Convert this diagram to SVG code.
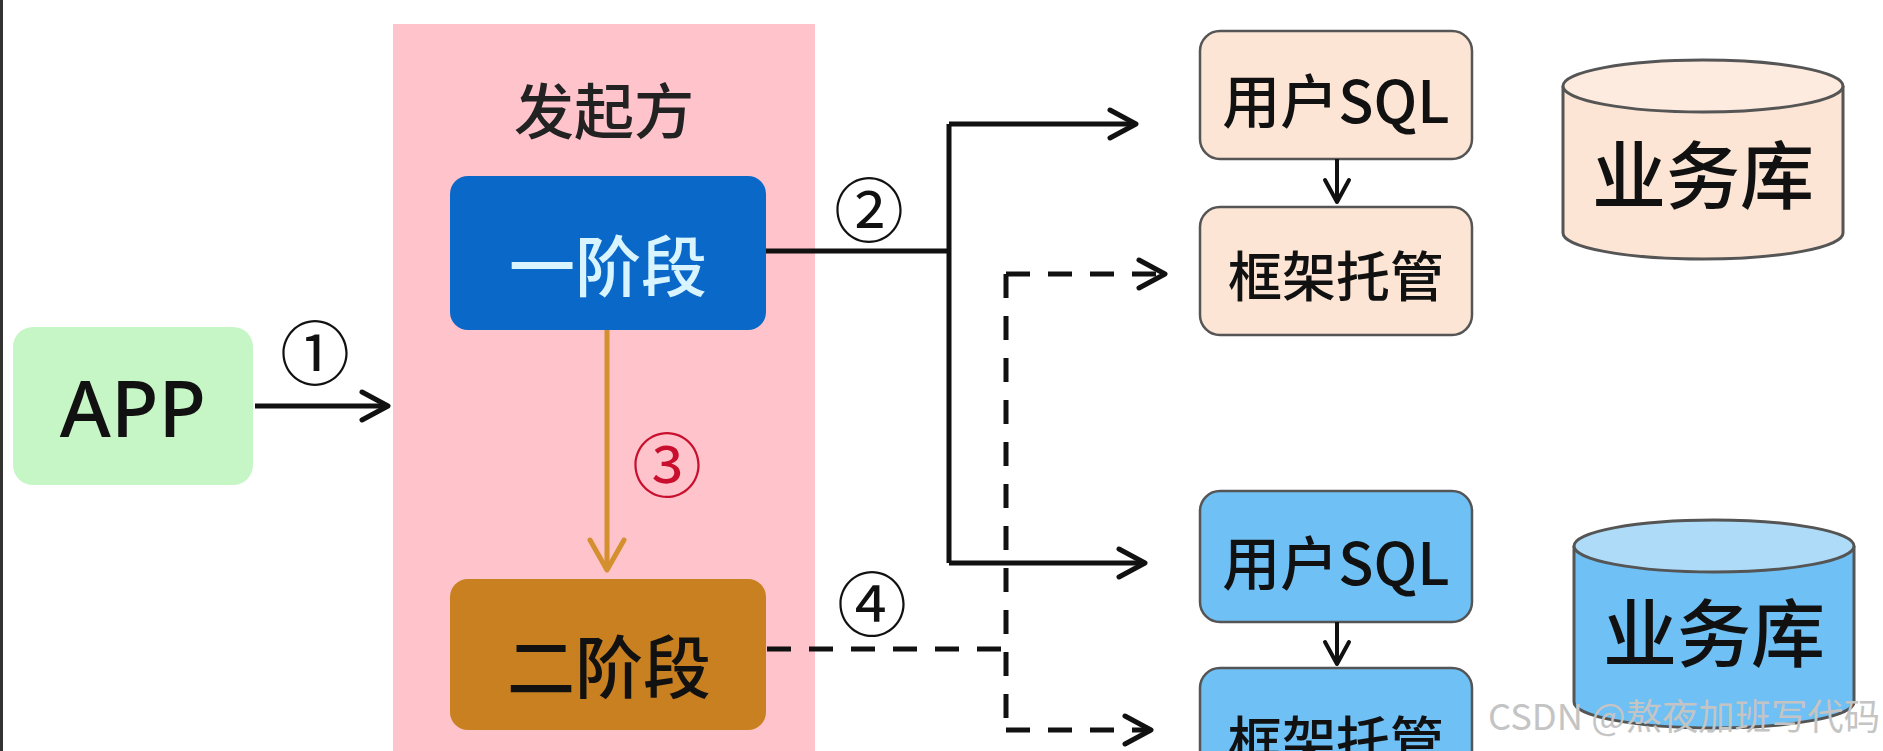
<svg xmlns="http://www.w3.org/2000/svg" width="1883" height="751" viewBox="0 0 1883 751">
<style>
.cjk{font-family:"Noto Sans CJK SC","Noto Sans",sans-serif;font-weight:500}
.lat{font-family:"Noto Sans","Noto Sans CJK SC",sans-serif;font-weight:500}
.c{text-anchor:middle;dominant-baseline:central}
.solid{fill:none;stroke:#111;stroke-width:5}
.dash{fill:none;stroke:#111;stroke-width:5;stroke-dasharray:24 18}
.rbox{stroke:#555;stroke-width:2.5}
.cyl{stroke:#555;stroke-width:3}
.num{font-size:70px;fill:#111;font-weight:400}
</style>
<defs>
<marker id="arr" markerUnits="userSpaceOnUse" viewBox="-32 -18 36 36" refX="0" refY="0" markerWidth="36" markerHeight="36" orient="auto" overflow="visible">
<path d="M-26,-14 L0,0 L-26,14" fill="none" stroke="#111" stroke-width="5" stroke-linecap="round" stroke-linejoin="round"/>
</marker>
<marker id="arrO" markerUnits="userSpaceOnUse" viewBox="-36 -20 40 40" refX="0" refY="0" markerWidth="40" markerHeight="40" orient="auto" overflow="visible">
<path d="M-30,-17 L0,0 L-30,17" fill="none" stroke="#d4902e" stroke-width="5" stroke-linecap="round" stroke-linejoin="round"/>
</marker>
<marker id="arrS" markerUnits="userSpaceOnUse" viewBox="-30 -16 34 32" refX="0" refY="0" markerWidth="34" markerHeight="32" orient="auto" overflow="visible">
<path d="M-22,-12 L0,0 L-22,12" fill="none" stroke="#111" stroke-width="4" stroke-linecap="round" stroke-linejoin="round"/>
</marker>
</defs>
<rect x="0" y="0" width="1883" height="751" fill="#ffffff"/>
<rect x="0" y="0" width="3" height="751" fill="#333"/>

<g id="initiator">
<rect x="393" y="24" width="422" height="740" fill="#ffc3cb"/>
<text class="cjk c" x="604" y="107" font-size="60" fill="#222">发起方</text>
</g>

<g id="app">
<rect x="13" y="327" width="240" height="158" rx="20" fill="#c6f6c6"/>
<text class="lat c" x="133" y="407" font-size="78" fill="#111">APP</text>
</g>

<g id="phase1">
<rect x="450" y="176" width="316" height="154" rx="18" fill="#0a68c8"/>
<text class="cjk c" x="608" y="262" font-size="66" fill="#d8f4ff">一阶段</text>
</g>

<g id="phase2">
<rect x="450" y="579" width="316" height="151" rx="18" fill="#c98020"/>
<text class="cjk c" x="609" y="663" font-size="68" fill="#111">二阶段</text>
</g>

<g id="sql-top">
<rect class="rbox" x="1200" y="31" width="272" height="128" rx="20" fill="#fce5d4"/>
<text class="cjk c" x="1336" y="98" font-size="58" fill="#111">用户SQL</text>
</g>
<g id="fw-top">
<rect class="rbox" x="1200" y="207" width="272" height="128" rx="20" fill="#fce5d4"/>
<text class="cjk c" x="1336" y="273" font-size="54" fill="#111">框架托管</text>
</g>
<g id="db-top">
<path class="cyl" d="M1563,86 V233 A140,26 0 0 0 1843,233 V86" fill="#fce5d4"/>
<ellipse class="cyl" cx="1703" cy="86" rx="140" ry="26" fill="#fdebdf"/>
<text class="cjk c" x="1703" y="170" font-size="74" fill="#111">业务库</text>
</g>

<g id="sql-bottom">
<rect class="rbox" x="1200" y="491" width="272" height="131" rx="20" fill="#6ec0f5"/>
<text class="cjk c" x="1336" y="560" font-size="58" fill="#111">用户SQL</text>
</g>
<g id="fw-bottom">
<rect class="rbox" x="1200" y="668" width="272" height="128" rx="20" fill="#6ec0f5"/>
<text class="cjk c" x="1336" y="738" font-size="54" fill="#111">框架托管</text>
</g>
<g id="db-bottom">
<path class="cyl" d="M1574,546 V702 A140,26 0 0 0 1854,702 V546" fill="#6ec0f5"/>
<ellipse class="cyl" cx="1714" cy="546" rx="140" ry="26" fill="#aedbf8"/>
<text class="cjk c" x="1714" y="628" font-size="74" fill="#111">业务库</text>
</g>

<g id="connectors">
<path class="solid" d="M255,406 H388" marker-end="url(#arr)"/>
<text class="cjk c num" x="315" y="349">①</text>

<path d="M607,330 V570" fill="none" stroke="#d4902e" stroke-width="5" marker-end="url(#arrO)"/>
<text class="cjk c num" x="667" y="461" style="fill:#c8102e">③</text>

<path class="solid" d="M766,251 H949"/>
<path class="solid" d="M949,124 V563"/>
<path class="solid" d="M949,124 H1136" marker-end="url(#arr)"/>
<path class="solid" d="M949,563 H1145" marker-end="url(#arr)"/>
<text class="cjk c num" x="869" y="206">②</text>

<path class="dash" d="M767,649 H1006"/>
<path class="dash" d="M1006,274 V730"/>
<path class="dash" d="M1006,274 H1165" marker-end="url(#arr)"/>
<path class="dash" d="M1006,730 H1151" marker-end="url(#arr)"/>
<text class="cjk c num" x="872" y="600">④</text>

<path d="M1337,159 V202" fill="none" stroke="#111" stroke-width="4" marker-end="url(#arrS)"/>
<path d="M1337,622 V664" fill="none" stroke="#111" stroke-width="4" marker-end="url(#arrS)"/>
</g>

<text class="cjk" x="1488" y="730" font-size="36" fill="#c4c4c4" style="font-weight:400" textLength="392" lengthAdjust="spacingAndGlyphs">CSDN @熬夜加班写代码</text>
</svg>
